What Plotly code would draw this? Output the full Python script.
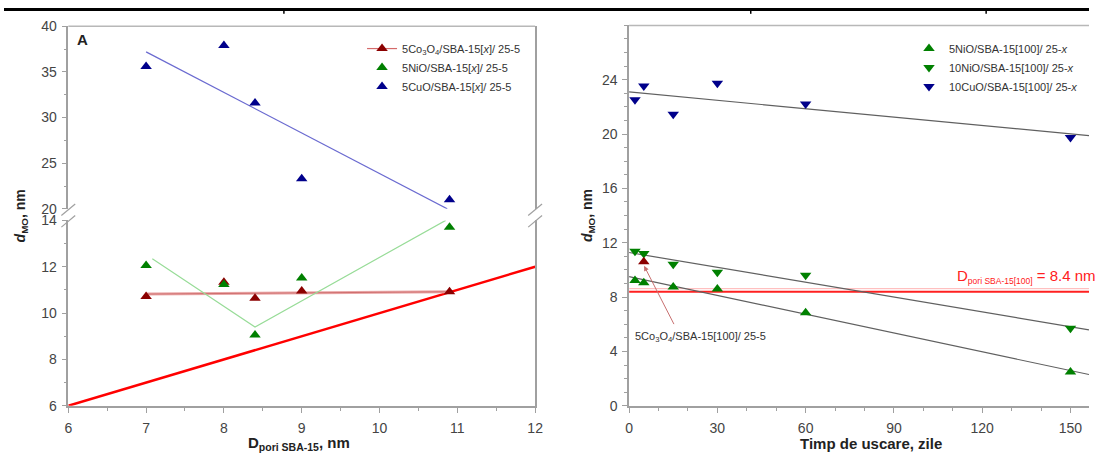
import plotly.graph_objects as go

W, H = 1097, 463

# ---------------- Left panel data ----------------
pore_d = [7.0, 8.0, 8.4, 9.0, 10.9]
co_left = [10.72, 11.33, 10.64, 10.95, 10.92]
ni_left = [12.05, 11.23, 9.05, 11.51, 13.7]
cu_left = [35.6, 37.9, 31.6, 23.3, 21.0]
cu_fit_x = [7.0, 10.87]
cu_fit_y = [37.2, 20.0]
ni_guide_x = [7.08, 8.4, 10.85]
ni_guide_y = [12.35, 9.4, 14.0]
co_fit_x = [7.0, 10.9]
co_fit_y = [10.82, 10.92]
diag_x = [6, 12]
diag_y = [6, 12]

# ---------------- Right panel data ----------------
days = [2, 5, 15, 30, 60, 150]
ni5 = [9.22, 9.05, 8.75, 8.59, 6.85, 2.48]
ni10 = [11.37, 11.2, 10.41, 9.83, 9.6, 5.71]
cu10 = [22.52, 23.53, 21.46, 23.74, 22.22, 19.75]
co5_day = [5]
co5_val = [10.6]
fit_days = [0, 156.3]
ni5_fit = [9.5, 2.3]
ni10_fit = [11.28, 5.59]
cu10_fit = [23.1, 19.89]
pore_line_x = [0, 156.3]
pore_line_y = [8.4, 8.4]
pore_edge_y = [8.62, 8.62]

left_names = ["5Co<sub>3</sub>O<sub>4</sub>/SBA-15[<i>x</i>]/ 25-5",
              "5NiO/SBA-15[<i>x</i>]/ 25-5",
              "5CuO/SBA-15[<i>x</i>]/ 25-5"]
right_names = ["5NiO/SBA-15[100]/ 25-<i>x</i>",
               "10NiO/SBA-15[100]/ 25-<i>x</i>",
               "10CuO/SBA-15[100]/ 25-<i>x</i>"]

RED = "#8b0000"
GREEN = "#008000"
NAVY = "#00008b"
FONT = "Liberation Sans, Arial, sans-serif"
AX = "#a0a0a0"

fig = go.Figure()

# ---- left panel ----
fig.add_trace(go.Scatter(x=diag_x, y=diag_y, mode="lines", line=dict(color="#ff0000", width=2.5),
                         xaxis="x", yaxis="y", showlegend=False))
fig.add_trace(go.Scatter(x=co_fit_x, y=co_fit_y, mode="lines", line=dict(color="#eaa8a8", width=3),
                         xaxis="x", yaxis="y", showlegend=False))
fig.add_trace(go.Scatter(x=co_fit_x, y=co_fit_y, mode="lines", line=dict(color="#c86060", width=0.8),
                         xaxis="x", yaxis="y", showlegend=False))
fig.add_trace(go.Scatter(x=ni_guide_x, y=ni_guide_y, mode="lines", line=dict(color="#98dc98", width=1.2),
                         xaxis="x", yaxis="y", showlegend=False, cliponaxis=False))
fig.add_trace(go.Scatter(x=cu_fit_x, y=cu_fit_y, mode="lines", line=dict(color="#6a6ad0", width=1.2),
                         xaxis="x", yaxis="y2", showlegend=False))
fig.add_trace(go.Scatter(x=pore_d, y=co_left, mode="markers",
                         marker=dict(symbol="triangle-up", size=10, color=RED), xaxis="x", yaxis="y",
                         showlegend=False))
fig.add_trace(go.Scatter(x=pore_d, y=ni_left, mode="markers",
                         marker=dict(symbol="triangle-up", size=10, color=GREEN), xaxis="x", yaxis="y",
                         showlegend=False))
fig.add_trace(go.Scatter(x=pore_d, y=cu_left, mode="markers",
                         marker=dict(symbol="triangle-up", size=10, color=NAVY), xaxis="x", yaxis="y2",
                         showlegend=False))
# legend entries (left)
fig.add_trace(go.Scatter(x=[None], y=[None], mode="lines+markers", name=left_names[0],
                         line=dict(color="#d46a6a", width=1.2),
                         marker=dict(symbol="triangle-up", size=10, color=RED),
                         xaxis="x", yaxis="y", legend="legend"))
fig.add_trace(go.Scatter(x=[None], y=[None], mode="markers", name=left_names[1],
                         marker=dict(symbol="triangle-up", size=10, color=GREEN),
                         xaxis="x", yaxis="y", legend="legend"))
fig.add_trace(go.Scatter(x=[None], y=[None], mode="markers", name=left_names[2],
                         marker=dict(symbol="triangle-up", size=10, color=NAVY),
                         xaxis="x", yaxis="y", legend="legend"))

# ---- right panel ----
fig.add_trace(go.Scatter(x=pore_line_x, y=pore_edge_y, mode="lines", line=dict(color="#ffa0a0", width=0.8),
                         xaxis="x2", yaxis="y3", showlegend=False))
fig.add_trace(go.Scatter(x=pore_line_x, y=pore_line_y, mode="lines", line=dict(color="#ff2020", width=2),
                         xaxis="x2", yaxis="y3", showlegend=False))
for fy in (ni5_fit, ni10_fit, cu10_fit):
    fig.add_trace(go.Scatter(x=fit_days, y=fy, mode="lines", line=dict(color="#606060", width=1.2),
                             xaxis="x2", yaxis="y3", showlegend=False))
fig.add_trace(go.Scatter(x=days, y=ni5, mode="markers", name=right_names[0],
                         marker=dict(symbol="triangle-up", size=10, color=GREEN),
                         xaxis="x2", yaxis="y3", legend="legend2"))
fig.add_trace(go.Scatter(x=days, y=ni10, mode="markers", name=right_names[1],
                         marker=dict(symbol="triangle-down", size=10, color=GREEN),
                         xaxis="x2", yaxis="y3", legend="legend2"))
fig.add_trace(go.Scatter(x=days, y=cu10, mode="markers", name=right_names[2],
                         marker=dict(symbol="triangle-down", size=10, color=NAVY),
                         xaxis="x2", yaxis="y3", legend="legend2"))
fig.add_trace(go.Scatter(x=co5_day, y=co5_val, mode="markers",
                         marker=dict(symbol="triangle-up", size=10, color=RED),
                         xaxis="x2", yaxis="y3", showlegend=False))

tickfont = dict(family=FONT, size=14, color="#444")
common = dict(showline=True, linecolor=AX, linewidth=1.5, ticks="outside", ticklen=5,
              tickcolor=AX, tickwidth=1, showgrid=False, zeroline=False, tickfont=tickfont,
              fixedrange=True)
minor_common = dict(ticks="outside", ticklen=3, tickcolor=AX, showgrid=False)

fig.update_layout(
    width=W, height=H, margin=dict(l=0, r=0, t=0, b=0),
    paper_bgcolor="white", plot_bgcolor="white",
    font=dict(family=FONT),
    xaxis=dict(domain=[65 / W, 537 / W], range=[6, 12], anchor="y", dtick=1, ticklabelstandoff=4,
               minor=dict(dtick=0.5, **minor_common), **common),
    yaxis=dict(domain=[1 - 412 / H, 1 - 220 / H], range=[6, 14], anchor="x", dtick=2, mirror=True,
               ticklabelstandoff=2, minor=dict(dtick=1, **minor_common), **common),
    yaxis2=dict(domain=[1 - 208 / H, 1 - 19 / H], range=[20, 40], anchor="x", dtick=5, mirror=True,
                ticklabelstandoff=2, minor=dict(dtick=2.5, **minor_common), **common),
    xaxis2=dict(domain=[632 / W, 1], range=[0, 156.3], anchor="y3", dtick=30, ticklabelstandoff=4,
                minor=dict(dtick=10, **minor_common), **common),
    yaxis3=dict(domain=[1 - 412 / H, 1 - 18 / H], range=[0, 28], anchor="x2",
                tickvals=[0, 4, 8, 12, 16, 20, 24], ticklabelstandoff=2,
                minor=dict(dtick=1, **minor_common), **common),
    legend=dict(x=362 / W, y=1 - 27 / H, xanchor="left", yanchor="top",
                font=dict(family=FONT, size=11, color="#333"), bgcolor="rgba(0,0,0,0)",
                tracegroupgap=0, itemwidth=30),
    legend2=dict(x=915 / W, y=1 - 27 / H, xanchor="left", yanchor="top",
                 font=dict(family=FONT, size=11, color="#333"), bgcolor="rgba(0,0,0,0)",
                 tracegroupgap=0, itemwidth=30),
    showlegend=True,
)

ann = []
ann.append(dict(text="<b>A</b>", x=72 / W, y=1 - 33 / H, xref="paper", yref="paper",
                xanchor="left", yanchor="middle", showarrow=False,
                font=dict(family=FONT, size=15, color="#222")))
ann.append(dict(text="<b>D<sub>pori SBA-15</sub>, nm</b>", x=298 / W, y=1 - 451 / H, xref="paper",
                yref="paper", xanchor="center", yanchor="middle", showarrow=False,
                font=dict(family=FONT, size=15, color="#222")))
ann.append(dict(text="<b>Timp de uscare, zile</b>", x=877 / W, y=1 - 451 / H, xref="paper",
                yref="paper", xanchor="center", yanchor="middle", showarrow=False,
                font=dict(family=FONT, size=15, color="#222")))
for xp in (17, 590):
    ann.append(dict(text="<b><i>d</i><sub>MO</sub>, nm</b>", x=xp / W, y=1 - 215 / H, xref="paper",
                    yref="paper", xanchor="center", yanchor="middle", showarrow=False, textangle=-90,
                    font=dict(family=FONT, size=14, color="#222")))
ann.append(dict(text='D<sub><span style="font-size:8.5px">pori SBA-15[100]</span></sub> = 8.4 nm',
                x=962 / W, y=1 - 278 / H, xref="paper", yref="paper", xanchor="left",
                yanchor="middle", showarrow=False, font=dict(family=FONT, size=15, color="#ff2020")))
ann.append(dict(text="", x=5.1, y=10.3, xref="x2", yref="y3", ax=15.5, ay=5.9, axref="x2",
                ayref="y3", showarrow=True, arrowhead=2, arrowsize=1, arrowwidth=1,
                arrowcolor="#c87070"))
ann.append(dict(text="5Co<sub>3</sub>O<sub>4</sub>/SBA-15[100]/ 25-5", x=1.5, y=5.07, xref="x2",
                yref="y3", xanchor="left", yanchor="middle", showarrow=False,
                font=dict(family=FONT, size=11, color="#333")))
fig.update_layout(annotations=ann)

shapes = []
# frame tops
shapes.append(dict(type="line", xref="paper", yref="paper", x0=65 / W, x1=537 / W,
                   y0=1 - 19 / H, y1=1 - 19 / H, line=dict(color="#b8b8b8", width=1.5)))
shapes.append(dict(type="line", xref="paper", yref="paper", x0=632 / W, x1=1,
                   y0=1 - 18 / H, y1=1 - 18 / H, line=dict(color="#b8b8b8", width=1.5)))
# axis break marks
for xb in (65, 537):
    for yb in (209, 221):
        shapes.append(dict(type="line", xref="paper", yref="paper", x0=(xb - 7) / W, x1=(xb + 7) / W,
                           y0=1 - (yb + 6) / H, y1=1 - (yb - 6) / H, line=dict(color=AX, width=1.2)))
# table rule at very top
shapes.append(dict(type="line", xref="paper", yref="paper", x0=0, x1=1, y0=1 - 1.5 / H, y1=1 - 1.5 / H,
                   line=dict(color="black", width=3)))
for xv in (283, 755, 993):
    shapes.append(dict(type="line", xref="paper", yref="paper", x0=xv / W, x1=xv / W,
                       y0=1, y1=1 - 6 / H, line=dict(color="black", width=1.5)))
fig.update_layout(shapes=shapes)

fig.write_html("out.html")
